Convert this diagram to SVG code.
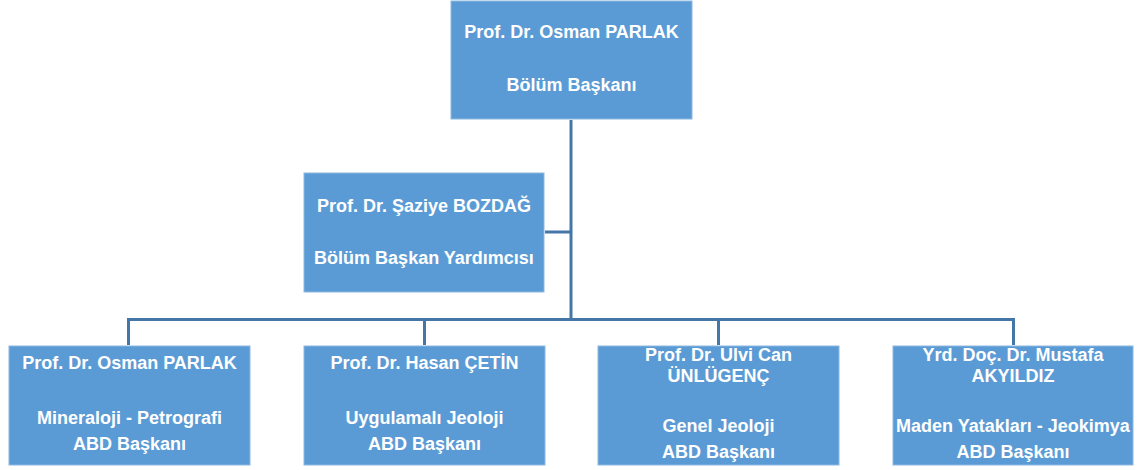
<svg xmlns="http://www.w3.org/2000/svg" width="1137" height="470" viewBox="0 0 1137 470">
<style>
.box{fill:#5B9BD5;stroke:#8DB8E2;stroke-width:1}
.t{font-family:"Liberation Sans",Arial,sans-serif;font-weight:bold;font-size:18px;fill:#FFFFFF;text-anchor:middle}
.c{fill:none;stroke:#4576A8;stroke-width:3}
</style>
<rect width="1137" height="470" fill="#FFFFFF"/>
<g id="connectors">
<path class="c" d="M571 120V319.5"/>
<path class="c" d="M545 232H571"/>
<path class="c" d="M128.5 345V319.5H1013.5V345"/>
<path class="c" d="M424.5 319.5V345"/>
<path class="c" d="M718.5 319.5V345"/>
</g>
<g id="n_baskan">
<rect class="box" x="451" y="1" width="241" height="118"/>
<text class="t" x="571.5" y="38">Prof. Dr. Osman PARLAK</text>
<text class="t" x="571.5" y="91">Bölüm Başkanı</text>
</g>
<g id="n_yardimci">
<rect class="box" x="304" y="173" width="240" height="119"/>
<text class="t" x="424" y="212">Prof. Dr. Şaziye BOZDAĞ</text>
<text class="t" x="424" y="264">Bölüm Başkan Yardımcısı</text>
</g>
<g id="n_mineraloji">
<rect class="box" x="9" y="346" width="241" height="119"/>
<text class="t" x="129.5" y="369">Prof. Dr. Osman PARLAK</text>
<text class="t" x="129.5" y="424">Mineraloji - Petrografi</text>
<text class="t" x="129.5" y="450">ABD Başkanı</text>
</g>
<g id="n_uygulamali">
<rect class="box" x="304" y="346" width="241" height="119"/>
<text class="t" x="424.5" y="369">Prof. Dr. Hasan ÇETİN</text>
<text class="t" x="424.5" y="424">Uygulamalı Jeoloji</text>
<text class="t" x="424.5" y="450">ABD Başkanı</text>
</g>
<g id="n_genel">
<rect class="box" x="598" y="346" width="241" height="119"/>
<text class="t" x="718.5" y="361">Prof. Dr. Ulvi Can</text>
<text class="t" x="718.5" y="382">ÜNLÜGENÇ</text>
<text class="t" x="718.5" y="432">Genel Jeoloji</text>
<text class="t" x="718.5" y="458">ABD Başkanı</text>
</g>
<g id="n_maden">
<rect class="box" x="893" y="346" width="240" height="119"/>
<text class="t" x="1013" y="361">Yrd. Doç. Dr. Mustafa</text>
<text class="t" x="1013" y="382">AKYILDIZ</text>
<text class="t" x="1013" y="432">Maden Yatakları - Jeokimya</text>
<text class="t" x="1013" y="458">ABD Başkanı</text>
</g>
</svg>
